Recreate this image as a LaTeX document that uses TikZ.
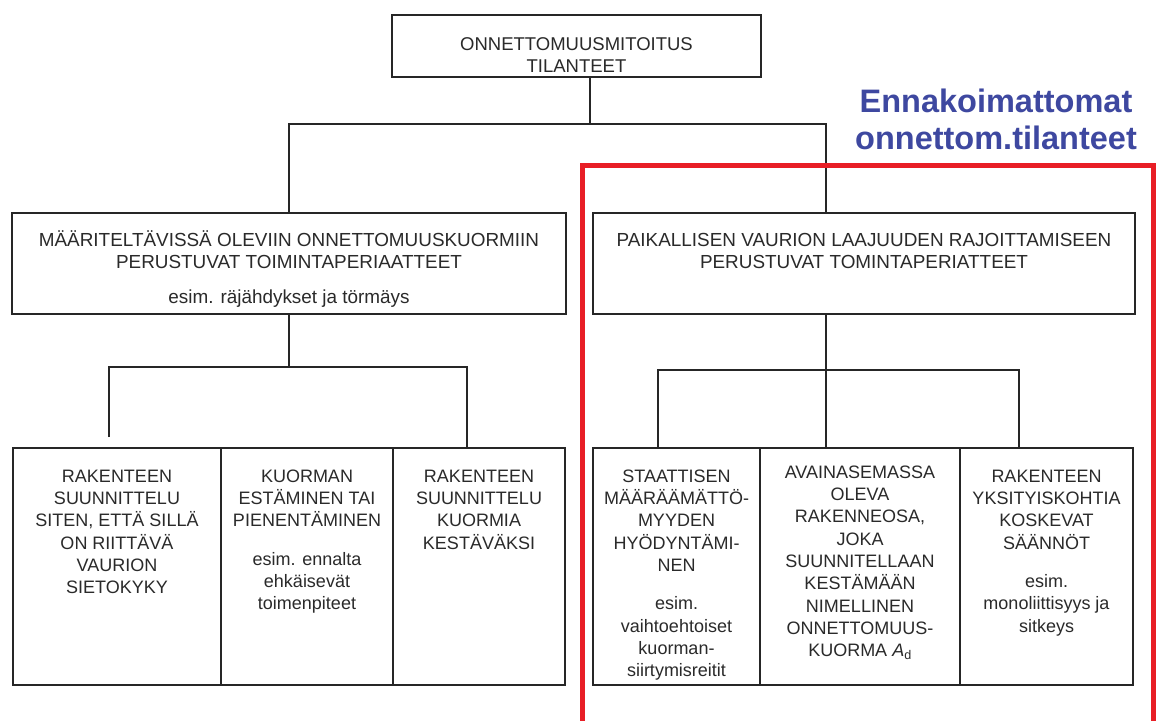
\documentclass[tikz,border=0pt]{standalone}
\usepackage{fontspec}
\setmainfont{Liberation Sans}
\definecolor{ink}{HTML}{262626}
\definecolor{txt}{HTML}{2A2A2A}
\definecolor{titleblue}{RGB}{62,72,160}
\definecolor{framered}{RGB}{232,30,38}

\begin{document}
\begin{tikzpicture}[x=1pt,y=-1pt,
  box/.style={draw=ink, line width=2.6pt, inner sep=0pt},
  wire/.style={draw=ink, line width=2.2pt},
  hdtext/.style={text=txt, font=\fontsize{18.9}{22}\selectfont, align=center, inner sep=0pt, anchor=north},
  cell/.style={text=txt, font=\fontsize{18}{22.3}\selectfont, align=center, inner sep=0pt, anchor=north},
]
\useasboundingbox (0,0) rectangle (1156,720);
\clip (0,0) rectangle (1156,720);
\fill[white] (0,0) rectangle (1156,720);

% frames
\node[box, minimum width=369pt, minimum height=62pt] (top) at (576.5,46) {};
\node[box, minimum width=554pt, minimum height=101pt] (ml) at (289,263.5) {};
\node[box, minimum width=542pt, minimum height=101pt] (mr) at (864,263.5) {};
\node[box, minimum width=208pt, minimum height=237pt] (b1) at (117,566.5) {};
\node[box, minimum width=172pt, minimum height=237pt] (b2) at (307,566.5) {};
\node[box, minimum width=172pt, minimum height=237pt] (b3) at (479,566.5) {};
\node[box, minimum width=167pt, minimum height=237pt] (b4) at (676.5,566.5) {};
\node[box, minimum width=200pt, minimum height=237pt] (b5) at (860,566.5) {};
\node[box, minimum width=173pt, minimum height=237pt] (b6) at (1046.5,566.5) {};

% texts
\node[hdtext, font=\fontsize{18.5}{22}\selectfont] (ttop) at (576.5,34.6) {\strut ONNETTOMUUSMITOITUS\\TILANTEET};
\node[hdtext] (tml) at (289,230.6) {\strut MÄÄRITELTÄVISSÄ OLEVIIN ONNETTOMUUSKUORMIIN\\PERUSTUVAT TOIMINTAPERIAATTEET\\[13pt]esim. räjähdykset ja törmäys};
\node[hdtext] (tmr) at (864,230.6) {\strut PAIKALLISEN VAURION LAAJUUDEN RAJOITTAMISEEN\\PERUSTUVAT TOMINTAPERIATTEET};

\node[cell] (t1) at (117,466.4) {\strut RAKENTEEN\\SUUNNITTELU\\SITEN, ETTÄ SILLÄ\\ON RIITTÄVÄ\\VAURION\\SIETOKYKY};
\node[cell] (t2) at (307,466.4) {\strut KUORMAN\\ESTÄMINEN TAI\\PIENENTÄMINEN\\[16pt]esim. ennalta\\ehkäisevät\\toimenpiteet};
\node[cell] (t3) at (479,466.4) {\strut RAKENTEEN\\SUUNNITTELU\\KUORMIA\\KESTÄVÄKSI};
\node[cell] (t4) at (676.5,466.4) {\strut STAATTISEN\\MÄÄRÄÄMÄTTÖ-\\MYYDEN\\HYÖDYNTÄMI-\\NEN\\[16pt]esim.\\vaihtoehtoiset\\kuorman-\\siirtymisreitit};
\node[cell] (t5) at (860,462.4) {\strut AVAINASEMASSA\\OLEVA\\RAKENNEOSA,\\JOKA\\SUUNNITELLAAN\\KESTÄMÄÄN\\NIMELLINEN\\ONNETTOMUUS-\\KUORMA {\itshape A}\textsubscript{d}};
\node[cell] (t6) at (1046.5,466.4) {\strut RAKENTEEN\\YKSITYISKOHTIA\\KOSKEVAT\\SÄÄNNÖT\\[16pt]esim.\\monoliittisyys ja\\sitkeys};

% connectors: top level
\coordinate (c0) at (590,124);
\coordinate (cR) at (826,124);
\draw[wire] (top.south -| c0) -- (c0);
\draw[wire] (ml.north) |- (cR) -- (mr.north -| cR);

% connectors: left branch
\coordinate (lh) at (289,367);
\coordinate (l1) at (109,437);
\coordinate (l3) at (467,367);
\draw[wire] (ml.south) -- (lh);
\draw[wire] (l1) |- (l3) -- (l3 |- b3.north);

% connectors: right branch
\coordinate (rc) at (826,370);
\coordinate (r1) at (658,370);
\coordinate (r3) at (1019,370);
\draw[wire] (mr.south -| rc) -- (rc |- b5.north);
\draw[wire] (b4.north -| r1) |- (r3) -- (b6.north -| r3);

% highlighted group
\draw[framered, line width=5pt] (582,735) -- (582,165) -- (1153,165) -- (1153,735);
\node[text=titleblue, font=\fontsize{32.5}{37}\bfseries\selectfont, align=center, inner sep=0pt, anchor=base] (lbl) at (996,149.5) {Ennakoimattomat\\onnettom.tilanteet};
\end{tikzpicture}
\end{document}
